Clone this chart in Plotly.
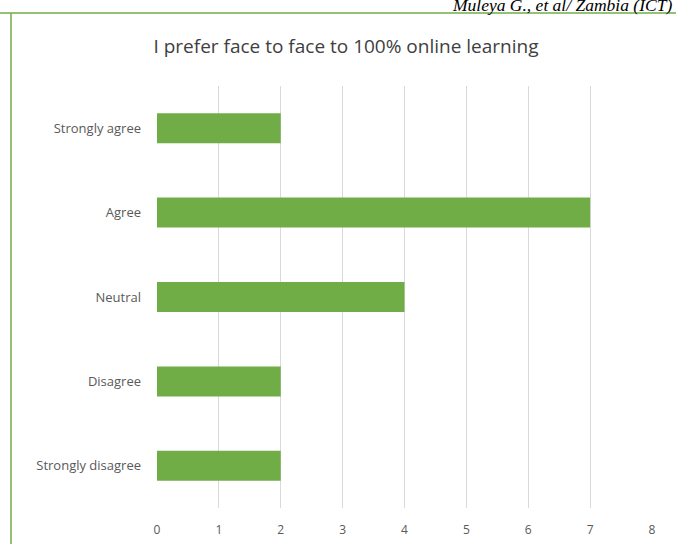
import plotly.graph_objects as go

categories = ["Strongly disagree", "Disagree", "Neutral", "Agree", "Strongly agree"]
values = [2, 2, 4, 7, 2]
x_ticks = [0, 1, 2, 3, 4, 5, 6, 7, 8]
title_text = "I prefer face to face to 100% online learning"
header_text = "Muleya G., et al/ Zambia (ICT)"

W, H = 676, 544
L, R, T, B = 157, 24, 86, 36
pw, ph = W - L - R, H - T - B

def px_x(x):
    return (x - L) / pw

def px_y(y):
    return 1 - (y - T) / ph

fig = go.Figure(go.Bar(
    y=categories, x=values, orientation="h",
    marker=dict(color="#70AD47", line=dict(width=0)),
    width=0.355,
))

fig.update_layout(
    width=W, height=H,
    margin=dict(l=L, r=R, t=T, b=B, autoexpand=False),
    paper_bgcolor="white", plot_bgcolor="white",
    showlegend=False,
    font=dict(family="Open Sans", color="#595959", size=13),
    title=dict(text=title_text, x=px_x(346), xref="paper", xanchor="center",
               y=1 - 46 / H, yref="container", yanchor="middle",
               font=dict(family="Open Sans", size=19, color="#404040")),
    xaxis=dict(range=[0, 8], tickvals=x_ticks, showgrid=True, gridcolor="#D9D9D9",
               gridwidth=1, zeroline=False, showline=False, ticks="",
               ticklabelstandoff=13, fixedrange=True, tickfont=dict(size=12),
               automargin=False),
    yaxis=dict(categoryorder="array", categoryarray=categories, showgrid=False,
               zeroline=False, showline=False, ticks="", ticklabelstandoff=15,
               fixedrange=True, automargin=False),
    shapes=[
        dict(type="line", xref="paper", yref="paper", x0=px_x(0), x1=px_x(W + 5),
             y0=px_y(13), y1=px_y(13), line=dict(color="#70AD47", width=1.5)),
        dict(type="line", xref="paper", yref="paper", x0=px_x(11), x1=px_x(11),
             y0=px_y(13), y1=px_y(H + 5), line=dict(color="#70AD47", width=1.5)),
    ],
    annotations=[
        dict(text="<i>" + header_text + "</i>", xref="paper", yref="paper",
             x=px_x(674), y=px_y(17), xanchor="right", yanchor="bottom",
             showarrow=False,
             font=dict(family="Liberation Serif", size=17.5, color="#000000")),
    ],
)

fig.write_html("out.html", config={"displayModeBar": False},
               post_script="document.body.style.margin='0';document.body.style.overflow='hidden';")
